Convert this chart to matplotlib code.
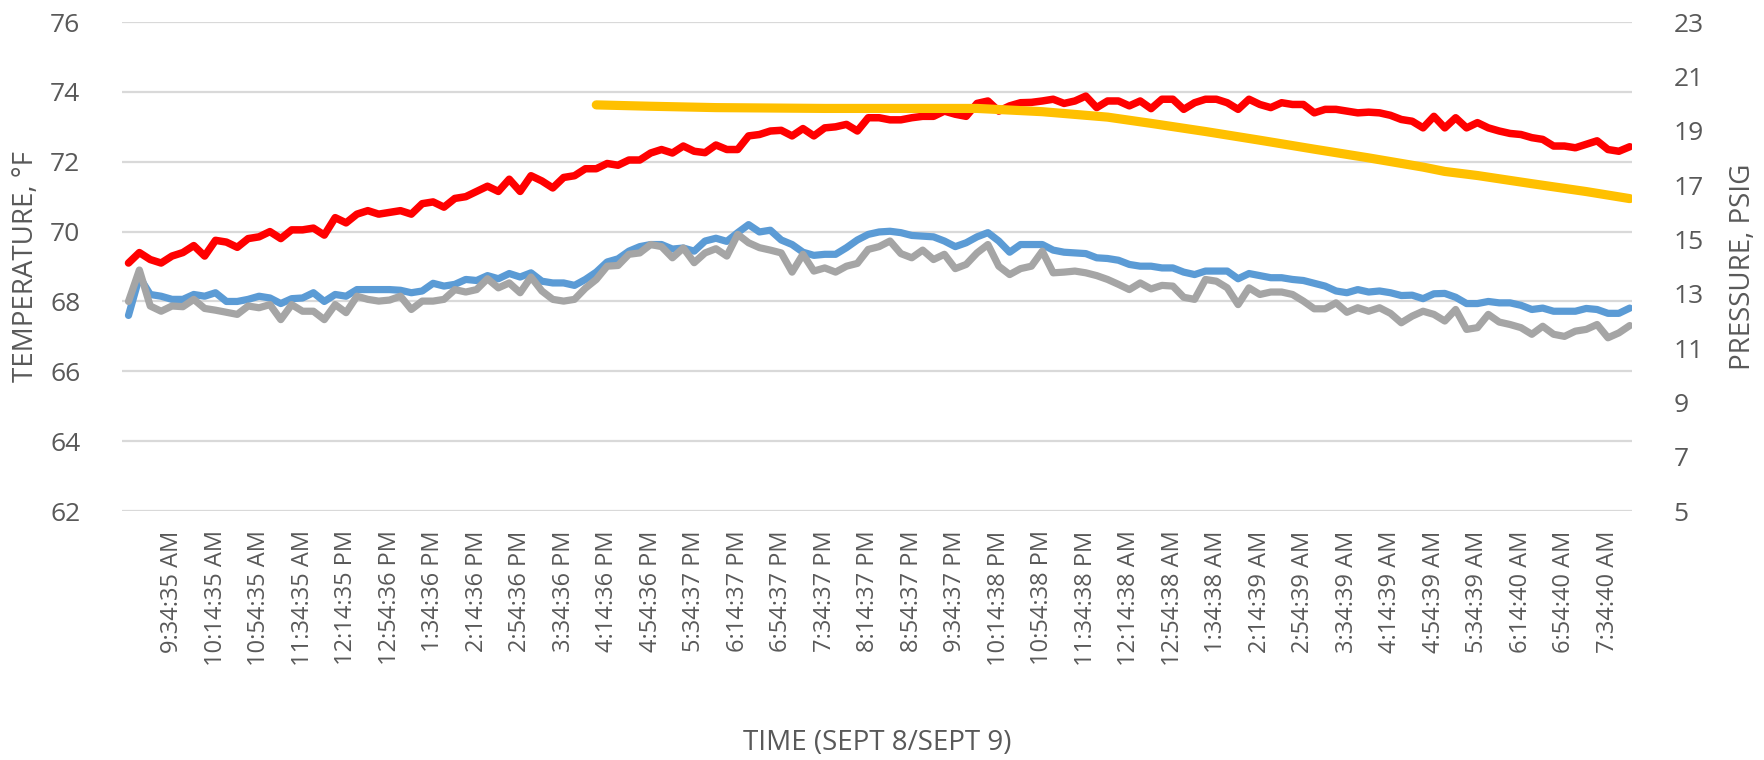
import numpy as np
import matplotlib
matplotlib.use("Agg")
import matplotlib.pyplot as plt

# minutes after 9:34:35 AM, one reading every 10 min
t_start = -40
t_step = 10

red_temp = [
    69.1, 69.4, 69.2, 69.1, 69.3, 69.4, 69.6, 69.3, 69.75, 69.7, 69.55, 69.8, 69.85, 70.0,
    69.8, 70.05, 70.05, 70.1, 69.9, 70.4, 70.25, 70.5, 70.6, 70.5, 70.55, 70.6, 70.5, 70.8,
    70.85, 70.7, 70.95, 71.0, 71.15, 71.3, 71.15, 71.5, 71.15, 71.6, 71.45, 71.25, 71.55, 71.6,
    71.8, 71.8, 71.95, 71.9, 72.05, 72.05, 72.25, 72.35, 72.25, 72.45, 72.3,
    72.26, 72.48, 72.35, 72.35, 72.74, 72.78, 72.88, 72.9, 72.74, 72.95, 72.74, 72.97, 73.0,
    73.07, 72.88, 73.26, 73.26, 73.2, 73.2, 73.26, 73.3, 73.3, 73.45, 73.36, 73.3, 73.67,
    73.74, 73.45, 73.6, 73.69, 73.7, 73.74, 73.79, 73.67, 73.74, 73.88, 73.55, 73.74, 73.74,
    73.6, 73.74, 73.52, 73.79, 73.79, 73.5, 73.69,
    73.79, 73.79, 73.69, 73.5, 73.79, 73.64, 73.55, 73.69, 73.64, 73.64, 73.4, 73.5, 73.5,
    73.45, 73.4, 73.42, 73.4, 73.33, 73.21, 73.16, 72.97, 73.3, 72.97, 73.26, 72.97, 73.12,
    72.97, 72.88, 72.81, 72.78, 72.69, 72.64, 72.45, 72.45, 72.4, 72.5, 72.6, 72.35, 72.3, 72.43,
]

blue_temp = [
    67.6, 68.7, 68.2, 68.15, 68.06, 68.06, 68.2, 68.15, 68.25, 68.0, 68.0, 68.06, 68.15, 68.1,
    67.94, 68.08, 68.1, 68.25, 68.0, 68.2, 68.15, 68.34, 68.34, 68.34, 68.34, 68.32, 68.25, 68.3,
    68.52, 68.44, 68.49, 68.63, 68.6, 68.74, 68.65, 68.8, 68.7, 68.82, 68.58, 68.53, 68.53, 68.46,
    68.63, 68.84, 69.13, 69.22, 69.44, 69.57, 69.63, 69.63, 69.5, 69.53, 69.44,
    69.73, 69.81, 69.72, 69.97, 70.2, 69.99, 70.04, 69.76, 69.63, 69.41, 69.32, 69.35, 69.35,
    69.54, 69.76, 69.92, 69.99, 70.01, 69.97, 69.89, 69.87, 69.85, 69.73, 69.57, 69.68, 69.85,
    69.97, 69.73, 69.41, 69.63, 69.63, 69.63, 69.47, 69.41, 69.39, 69.37, 69.25, 69.23, 69.18,
    69.06, 69.01, 69.01, 68.96, 68.96, 68.84, 68.77,
    68.87, 68.87, 68.87, 68.65, 68.8, 68.74, 68.68, 68.68, 68.63, 68.6, 68.52, 68.44, 68.3,
    68.25, 68.34, 68.27, 68.3, 68.25, 68.17, 68.18, 68.08, 68.22, 68.23, 68.12, 67.94, 67.94,
    68.0, 67.96, 67.96, 67.89, 67.77, 67.81, 67.72, 67.72, 67.72, 67.8, 67.77, 67.66, 67.66, 67.81,
]

gray_temp = [
    68.0, 68.9, 67.87, 67.72, 67.87, 67.85, 68.06, 67.8, 67.75, 67.69, 67.63, 67.87, 67.82, 67.91,
    67.48, 67.91, 67.72, 67.72, 67.48, 67.91, 67.68, 68.15, 68.06, 68.01, 68.04, 68.15, 67.77, 68.01,
    68.01, 68.06, 68.34, 68.27, 68.34, 68.65, 68.39, 68.53, 68.25, 68.7, 68.3, 68.06, 68.01, 68.06,
    68.38, 68.63, 69.01, 69.03, 69.35, 69.39, 69.63, 69.57, 69.25, 69.53, 69.11,
    69.39, 69.51, 69.3, 69.92, 69.68, 69.54, 69.47, 69.39, 68.84, 69.35, 68.87, 68.96, 68.84,
    69.01, 69.09, 69.49, 69.57, 69.73, 69.37, 69.25, 69.47, 69.2, 69.35, 68.94, 69.06, 69.39,
    69.63, 69.01, 68.77, 68.94, 69.01, 69.44, 68.82, 68.84, 68.87, 68.82, 68.74, 68.63, 68.49,
    68.34, 68.53, 68.36, 68.46, 68.44, 68.12, 68.06,
    68.63, 68.58, 68.39, 67.91, 68.39, 68.2, 68.27, 68.27, 68.2, 68.01, 67.79, 67.79, 67.96,
    67.69, 67.82, 67.72, 67.82, 67.66, 67.39, 67.58, 67.72, 67.63, 67.44, 67.77, 67.2, 67.25,
    67.63, 67.41, 67.34, 67.25, 67.06, 67.29, 67.06, 67.0, 67.15, 67.2, 67.34, 66.96, 67.1, 67.31,
]

pressure_time = [390, 440, 500, 600, 700, 740, 800, 860, 900, 950, 1000, 1050, 1100, 1150,
                 1170, 1200, 1250, 1300, 1340]
pressure = [19.95, 19.9, 19.85, 19.82, 19.82, 19.82, 19.7, 19.5, 19.27, 18.97, 18.65, 18.32,
            18.0, 17.66, 17.5, 17.35, 17.05, 16.76, 16.5]

tick_time = list(range(0, 1321, 40))
tick_labels = [
    "9:34:35 AM", "10:14:35 AM", "10:54:35 AM", "11:34:35 AM", "12:14:35 PM", "12:54:36 PM",
    "1:34:36 PM", "2:14:36 PM", "2:54:36 PM", "3:34:36 PM", "4:14:36 PM", "4:54:36 PM",
    "5:34:37 PM", "6:14:37 PM", "6:54:37 PM", "7:34:37 PM", "8:14:37 PM", "8:54:37 PM",
    "9:34:37 PM", "10:14:38 PM", "10:54:38 PM", "11:34:38 PM", "12:14:38 AM", "12:54:38 AM",
    "1:34:38 AM", "2:14:39 AM", "2:54:39 AM", "3:34:39 AM", "4:14:39 AM", "4:54:39 AM",
    "5:34:39 AM", "6:14:40 AM", "6:54:40 AM", "7:34:40 AM",
]

plt.rcParams['font.family'] = ['Open Sans', 'DejaVu Sans']
text_color = "#595959"

t = t_start + t_step * np.arange(len(red_temp))

fig = plt.figure(figsize=(17.65, 7.6), dpi=100)
ax = fig.add_axes([0.0691, 0.3276, 0.8555, 0.6434])
ax2 = ax.twinx()

line_kw = dict(solid_capstyle="round", solid_joinstyle="round")
ax.plot(t, blue_temp, color="#5B9BD5", lw=5.2, **line_kw)
ax.plot(t, gray_temp, color="#A5A5A5", lw=5.2, **line_kw)
ax.plot(t, red_temp, color="#FF0000", lw=5.4, **line_kw)
ax2.plot(pressure_time, pressure, color="#FFC000", lw=6.6, **line_kw)

ax.set_xlim(-46, 1342)
ax.set_ylim(62, 76)
ax.set_yticks(range(62, 77, 2))
ax2.set_ylim(5, 23)
ax2.set_yticks(range(5, 24, 2))

ax.grid(axis="y", color="#D9D9D9", lw=1.6)
ax.set_axisbelow(True)
for a in (ax, ax2):
    for s in a.spines.values():
        s.set_visible(False)

ax.set_xticks(tick_time)
ax.set_xticklabels(tick_labels, rotation=90, fontsize=17, color=text_color)
ax.tick_params(axis="x", length=0, pad=14)
ax.tick_params(axis="y", length=0, pad=30, labelsize=19, labelcolor=text_color)
ax2.tick_params(axis="y", length=0, pad=30, labelsize=19, labelcolor=text_color)

ax.set_ylabel("TEMPERATURE, °F", fontsize=20, color=text_color)
ax2.set_ylabel("PRESSURE, PSIG", fontsize=20, color=text_color)
ax.set_xlabel("TIME (SEPT 8/SEPT 9)", fontsize=20, color=text_color)
ax.yaxis.set_label_coords(-0.054, 0.5)
ax2.yaxis.set_label_coords(1.064, 0.5)
ax.xaxis.set_label_coords(0.5, -0.445)

fig.savefig("out.png", dpi=100)
